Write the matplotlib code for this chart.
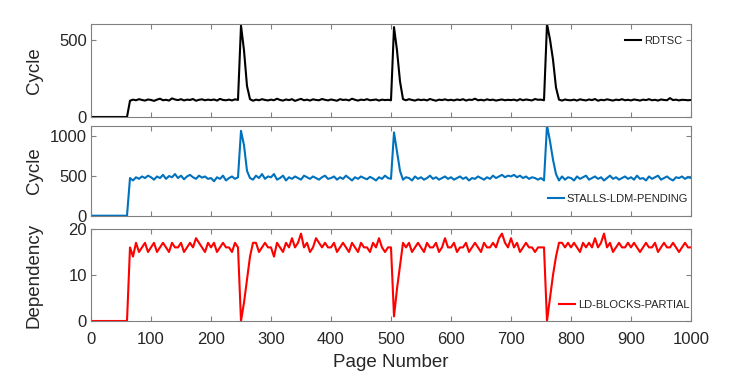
import numpy as np
import matplotlib
matplotlib.use("Agg")
import matplotlib.pyplot as plt

plt.rcParams['font.family'] = ['Liberation Sans', 'DejaVu Sans']

# page numbers, one sample every 5 pages
pages = list(range(0, 1001, 5))

rdtsc = [
    0, 0, 0, 0, 0, 0, 0, 0, 0, 0, 0, 0, 0, 105, 112, 108, 115, 110, 106, 113,
    110, 104, 112, 118, 108, 111, 106, 120, 113, 109, 115, 107, 112, 110, 116, 105, 111, 114, 108, 112,
    109, 113, 106, 117, 110, 108, 112, 107, 114, 110, 590, 430, 200, 115, 105, 112, 108, 115, 110, 107,
    112, 108, 118, 110, 106, 113, 109, 115, 104, 111, 117, 108, 112, 106, 114, 110, 108, 116, 111, 107,
    113, 109, 105, 115, 110, 112, 107, 118, 111, 106, 112, 109, 115, 108, 110, 113, 106, 112, 109, 111,
    108, 580, 430, 230, 115, 108, 115, 110, 106, 113, 109, 112, 107, 116, 110, 105, 112, 109, 114, 108,
    111, 107, 113, 109, 115, 106, 112, 110, 118, 108, 111, 107, 114, 109, 112, 106, 110, 113, 108, 111,
    109, 112, 106, 115, 108, 113, 110, 107, 116, 111, 112, 108, 600, 500, 370, 190, 112, 106, 113, 109,
    108, 112, 106, 114, 110, 107, 113, 109, 116, 105, 111, 108, 114, 110, 106, 112, 109, 115, 108, 111,
    107, 113, 110, 106, 112, 109, 115, 108, 111, 106, 113, 110, 108, 122, 109, 112, 107, 111, 110, 108,
    110,
]

stalls = [
    0, 0, 0, 0, 0, 0, 0, 0, 0, 0, 0, 0, 0, 470, 440, 480, 460, 490, 470, 500,
    480, 450, 490, 470, 510, 460, 495, 480, 520, 470, 500, 455, 490, 510, 480, 460, 500, 475, 490, 460,
    470, 430, 480, 460, 500, 440, 470, 490, 460, 480, 1060, 880, 560, 470, 450, 500, 470, 520, 460, 490,
    480, 520, 450, 470, 500, 440, 480, 460, 490, 470, 450, 500, 480, 460, 490, 470, 450, 480, 500, 460,
    470, 490, 450, 480, 460, 500, 470, 440, 480, 460, 490, 470, 455, 485, 465, 440, 480, 460, 500, 470,
    460, 1040, 800, 560, 450, 480, 470, 440, 490, 460, 480, 450, 470, 500, 460, 480, 450, 470, 490, 460,
    480, 450, 470, 490, 460, 480, 440, 470, 460, 490, 470, 450, 480, 460, 500, 470, 490, 510, 480, 500,
    490, 510, 480, 500, 470, 490, 460, 480, 470, 450, 470, 440, 1130, 930, 700, 520, 440, 490, 450, 480,
    470, 440, 490, 460, 480, 500, 450, 470, 490, 460, 480, 440, 470, 500, 460, 480, 450, 470, 490, 460,
    480, 450, 500, 460, 470, 440, 490, 460, 480, 500, 450, 470, 490, 460, 440, 480, 470, 490, 460, 480,
    470,
]

ld_blocks = [
    0, 0, 0, 0, 0, 0, 0, 0, 0, 0, 0, 0, 0, 16, 14, 17, 15, 16, 17, 15,
    16, 17, 15, 16, 17, 16, 15, 17, 16, 16, 17, 15, 16, 17, 16, 18, 17, 16, 15, 17,
    16, 17, 15, 16, 17, 16, 16, 15, 17, 16, 0, 4, 9, 14, 17, 17, 15, 16, 17, 16,
    16, 14, 17, 16, 15, 17, 16, 18, 16, 17, 19, 16, 17, 15, 16, 18, 17, 16, 17, 16,
    16, 17, 15, 16, 17, 16, 15, 17, 16, 15, 17, 16, 16, 15, 17, 16, 18, 16, 15, 16,
    16, 1, 7, 12, 17, 16, 17, 15, 16, 17, 16, 15, 17, 16, 16, 17, 15, 16, 18, 16,
    16, 17, 15, 16, 16, 17, 15, 16, 17, 16, 15, 17, 16, 16, 17, 16, 18, 19, 17, 16,
    18, 16, 17, 15, 16, 17, 16, 16, 15, 16, 16, 16, 0, 5, 10, 14, 17, 17, 16, 17,
    16, 17, 16, 15, 17, 16, 17, 16, 18, 16, 17, 19, 16, 17, 15, 16, 17, 16, 16, 17,
    16, 17, 16, 15, 16, 17, 16, 16, 17, 15, 16, 17, 16, 16, 17, 16, 15, 16, 17, 16,
    16,
]

fig = plt.figure(figsize=(7.51, 3.86), dpi=100)

left, width = 91 / 751, 600 / 751
ax1 = fig.add_axes([left, 1 - 117 / 386, width, 93 / 386])
ax2 = fig.add_axes([left, 1 - 215.7 / 386, width, 89.7 / 386])
ax3 = fig.add_axes([left, 1 - 321 / 386, width, 92 / 386])

spine_col = '#808080'
text_col = '#262626'

ax1.plot(pages, rdtsc, color='black', lw=1.5, label='RDTSC')
ax2.plot(pages, stalls, color='#0072BD', lw=1.5, label='STALLS-LDM-PENDING')
ax3.plot(pages, ld_blocks, color='#FF0000', lw=1.5, label='LD-BLOCKS-PARTIAL')

ax1.set_ylim(0, 600)
ax1.set_yticks([0, 500])
ax2.set_ylim(0, 1120)
ax2.set_yticks([0, 500, 1000])
ax3.set_ylim(0, 20)
ax3.set_yticks([0, 10, 20])

ax1.set_ylabel('Cycle')
ax2.set_ylabel('Cycle')
ax3.set_ylabel('Dependency')
ax3.set_xlabel('Page Number', fontsize=13.5, color=text_col, labelpad=5)

for ax in (ax1, ax2, ax3):
    ax.set_xlim(0, 1000)
    ax.set_xticks(range(0, 1001, 100))
    ax.tick_params(direction='in', top=True, right=True, length=3.5,
                   labelsize=12, colors=spine_col, labelcolor=text_col, pad=3)
    ax.tick_params(axis='x', pad=8)
    for s in ax.spines.values():
        s.set_color(spine_col)
        s.set_linewidth(0.8)
    ax.yaxis.label.set_fontsize(13.5)
    ax.yaxis.label.set_color(text_col)
    ax.yaxis.set_label_coords(-0.08, 0.5)
    if ax is not ax3:
        ax.tick_params(labelbottom=False)

leg_kw = dict(frameon=False, fontsize=8, borderpad=0, borderaxespad=0,
              handlelength=1.45, handletextpad=0.25, loc='center right')
ax1.legend(bbox_to_anchor=(0.985, 0.82), labelcolor=text_col, **leg_kw)
ax2.legend(bbox_to_anchor=(0.995, 0.186), labelcolor=text_col, **leg_kw)
ax3.legend(bbox_to_anchor=(0.997, 0.174), labelcolor=text_col, **leg_kw)

fig.savefig('out.png', dpi=100)
